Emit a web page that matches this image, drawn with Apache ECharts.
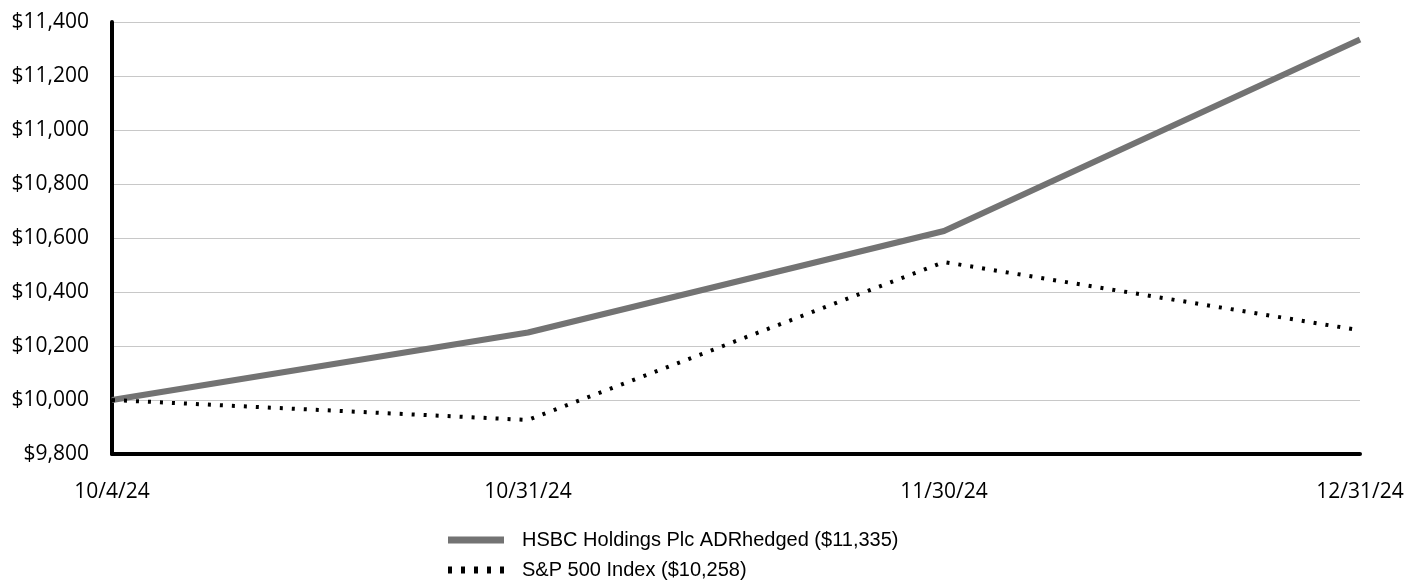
<!DOCTYPE html>
<html><head><meta charset="utf-8">
<script src="https://cdn.jsdelivr.net/npm/echarts@6/dist/echarts.min.js"></script>
<style>html,body{margin:0;padding:0;background:#fff}#c{width:1407px;height:588px}</style>
</head><body><div id="c"></div>
<script>
const categories = ['10/4/24', '10/31/24', '11/30/24', '12/31/24'];
const hsbcName = 'HSBC Holdings Plc ADRhedged ($11,335)';
const hsbcValues = [10000, 10250, 10626, 11335];
const spName = 'S&P 500 Index ($10,258)';
const spValues = [10000, 9926, 10511, 10258];
const yMin = 9800, yMax = 11400, yStep = 200;

const dotsIcon = 'path://M0,0h4v7h-4z M13,0h4v7h-4z M26,0h4v7h-4z M39,0h4v7h-4z M52,0h4v7h-4z';

const chart = echarts.init(document.getElementById('c'), null, {renderer: 'canvas'});
chart.setOption({
  animation: false,
  backgroundColor: '#fff',
  grid: {left: 112, right: 47, top: 22, bottom: 134, containLabel: false},
  legend: {
    orient: 'vertical', left: 448, top: 530, padding: 0, itemWidth: 56, itemHeight: 7, itemGap: 10,
    textStyle: {fontFamily: "'Liberation Sans', Arial, sans-serif", fontSize: 20, lineHeight: 20, color: '#000', padding: [0,0,0,13]},
    data: [
      {name: hsbcName, icon: 'rect', itemStyle: {color: '#737373'}},
      {name: spName, icon: dotsIcon, itemStyle: {color: '#000'}}
    ]
  },
  xAxis: {
    type: 'category', data: categories, boundaryGap: false,
    axisLine: {lineStyle: {color: '#000', width: 4}},
    axisTick: {show: false},
    axisLabel: {fontFamily: "'Open Sans', sans-serif", fontSize: 21, color: '#000', margin: 28}
  },
  yAxis: {
    type: 'value', min: yMin, max: yMax, interval: yStep,
    axisLine: {show: true, lineStyle: {color: '#000', width: 4}},
    axisTick: {show: false},
    splitLine: {lineStyle: {color: '#c8c8c8', width: 1}},
    axisLabel: {fontFamily: "'Open Sans', sans-serif", fontSize: 21, color: '#000', margin: 23,
      formatter: v => '$' + v.toLocaleString('en-US')}
  },
  series: [
    {name: hsbcName, type: 'line', data: hsbcValues, symbol: 'none',
     lineStyle: {color: '#737373', width: 6}, itemStyle: {color: '#737373'}},
    {name: spName, type: 'line', data: spValues, symbol: 'none',
     lineStyle: {color: '#000', width: 4, type: [3, 9]}, itemStyle: {color: '#000'}}
  ]
});
</script></body></html>
